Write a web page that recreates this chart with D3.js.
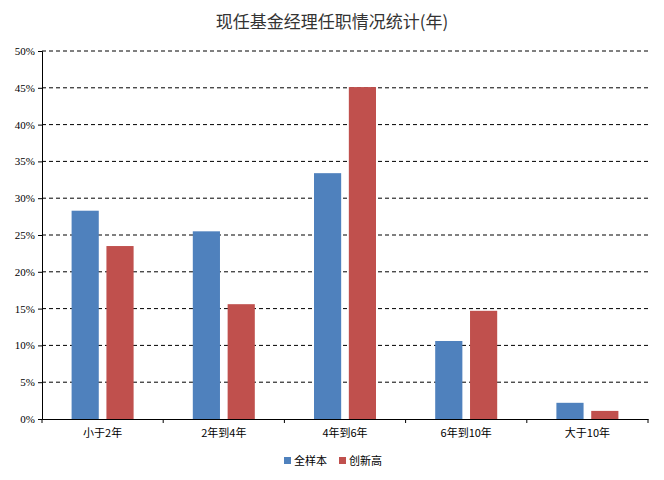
<!DOCTYPE html>
<html><head><meta charset="utf-8">
<script src="https://cdn.jsdelivr.net/npm/d3@7"></script>
<style>body{margin:0;background:#fff}</style>
</head><body>
<script>
var categories = ['小于2年', '2年到4年', '4年到6年', '6年到10年', '大于10年'];
var seriesNames = ['全样本', '创新高'];
var allSample = [28.3, 25.5, 33.4, 10.6, 2.2];
var newHigh = [23.5, 15.6, 45.1, 14.7, 1.1];
var yTicks = [0, 5, 10, 15, 20, 25, 30, 35, 40, 45, 50];
var colors = ['#4f81bd', '#c0504d'];

var width = 664, height = 480;
var margin = {top: 51, right: 16, bottom: 61, left: 42};

var svg = d3.select('body').append('svg')
  .attr('width', width).attr('height', height);

var x = d3.scaleBand().domain(categories)
  .range([margin.left, width - margin.right]);
var x1 = d3.scaleBand().domain(seriesNames)
  .range([0, 62]).paddingInner(0.22);
var y = d3.scaleLinear().domain([0, 50])
  .range([height - margin.bottom, margin.top]);

svg.append('text')
  .attr('x', 332).attr('y', 28)
  .attr('text-anchor', 'middle')
  .style('font-family', '"Noto Sans CJK SC"')
  .style('font-size', '17px').style('fill', '#333')
  .text('现任基金经理任职情况统计(年)');

// grid
svg.append('g').selectAll('line').data(yTicks.filter(function(d){ return d > 0; }))
  .enter().append('line')
  .attr('x1', margin.left).attr('x2', width - margin.right)
  .attr('y1', function(d){ return y(d); }).attr('y2', function(d){ return y(d); })
  .attr('stroke', '#000').attr('stroke-dasharray', '4,3').attr('stroke-width', 1);

var yAxis = svg.append('g')
  .attr('transform', 'translate(' + margin.left + ',0)')
  .call(d3.axisLeft(y).tickValues(yTicks).tickSize(4)
    .tickFormat(function(d){ return d + '%'; }));
yAxis.selectAll('text').style('font-family', '"Liberation Serif"').style('font-size', '11px');

var xAxis = svg.append('g')
  .attr('transform', 'translate(0,' + y(0) + ')')
  .call(d3.axisBottom(x).tickSize(0).tickPadding(10));
xAxis.select('.domain').attr('stroke', '#000');
xAxis.selectAll('text').style('font-family', '"Noto Sans CJK SC"').style('font-size', '11px').style('fill', '#000');
xAxis.selectAll('.sep').data(d3.range(categories.length + 1)).enter().append('line')
  .attr('x1', function(i){ return margin.left + i * x.step(); })
  .attr('x2', function(i){ return margin.left + i * x.step(); })
  .attr('y1', 0).attr('y2', 4).attr('stroke', '#000');

var series = [allSample, newHigh];
series.forEach(function(vals, si) {
  svg.append('g').selectAll('rect').data(vals).enter().append('rect')
    .attr('x', function(d, i){ return x(categories[i]) + x.bandwidth() / 2 - 31 + x1(seriesNames[si]); })
    .attr('y', function(d){ return y(d); })
    .attr('width', x1.bandwidth())
    .attr('height', function(d){ return y(0) - y(d); })
    .attr('fill', colors[si]);
});

var legend = svg.append('g').attr('transform', 'translate(284,457)');
seriesNames.forEach(function(n, i) {
  var g = legend.append('g').attr('transform', 'translate(' + (i * 55) + ',0)');
  g.append('rect').attr('width', 7).attr('height', 7).attr('fill', colors[i]);
  g.append('text').attr('x', 10).attr('y', 8)
    .style('font-family', '"Noto Sans CJK SC"').style('font-size', '11px').text(n);
});
</script>
</body></html>
